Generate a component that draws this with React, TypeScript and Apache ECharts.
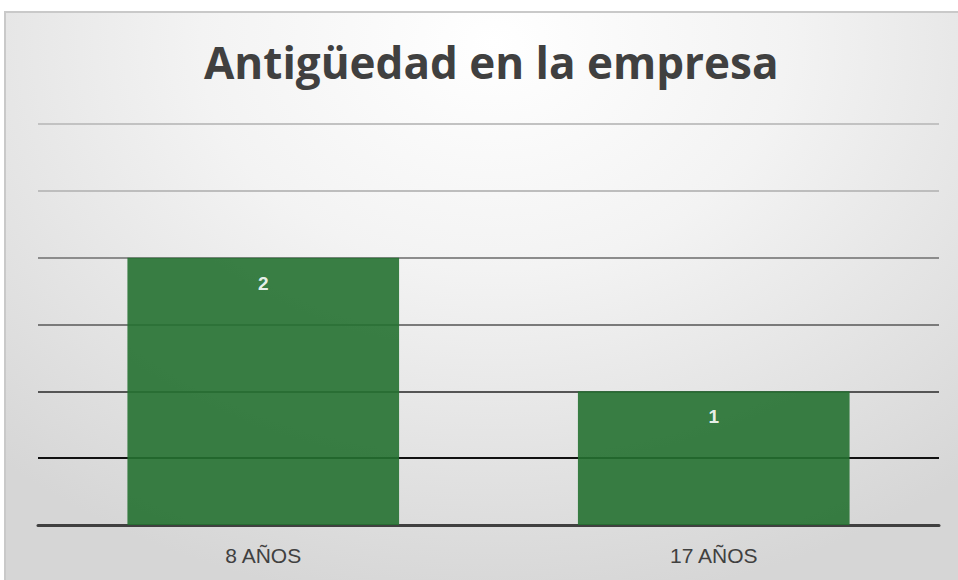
import React, { useEffect, useRef } from "react";
import * as echarts from "echarts";

const title = "Antigüedad en la empresa";
const categories = ["8 AÑOS", "17 AÑOS"];
const values = [2, 1];
const yMax = 3;
const yInterval = 0.5;

export default function App() {
  const ref = useRef<HTMLDivElement>(null);
  useEffect(() => {
    if (!ref.current) return;
    const chart = echarts.init(ref.current, null, { renderer: "svg" });
    chart.setOption({
      animation: false,
      backgroundColor: "transparent",
      title: {
        text: title,
        left: 199,
        top: 35,
        textStyle: {
          fontFamily: "Open Sans",
          fontWeight: "bold",
          fontSize: 44,
          color: "#404040",
        },
      },
      grid: { left: 38, right: 19, top: 124, bottom: 55, containLabel: false },
      xAxis: {
        type: "category",
        data: categories,
        axisLine: { show: true, lineStyle: { color: "#404040", width: 3 } },
        axisTick: { show: false },
        axisLabel: {
          fontFamily: "Liberation Sans",
          fontSize: 21,
          color: "#404040",
          margin: 20,
        },
      },
      yAxis: {
        type: "value",
        min: 0,
        max: yMax,
        interval: yInterval,
        axisLabel: { show: false },
        axisLine: { show: false },
        axisTick: { show: false },
        splitLine: {
          show: true,
          lineStyle: {
            width: 2,
            color: ["#404040", "#111111", "#555555", "#7a7a7a", "#8c8c8c", "#bdbdbd", "#c2c2c2"],
          },
        },
      },
      series: [
        {
          type: "bar",
          data: values,
          barWidth: "60.3%",
          itemStyle: { color: "rgb(37,113,49)", opacity: 0.9 },
          label: {
            show: true,
            position: "insideTop",
            distance: 16,
            color: "#ffffff",
            fontWeight: "bold",
            fontSize: 19,
            fontFamily: "Liberation Sans",
          },
        },
      ],
    });
    return () => chart.dispose();
  }, []);
  return (
    <div style={{ position: "fixed", left: 0, top: 0, width: 958, height: 580, overflow: "hidden", background: "#ffffff" }}>
      <div
        style={{
          position: "absolute",
          left: 4,
          top: 11,
          width: 980,
          height: 600,
          boxSizing: "border-box",
          border: "2px solid #c9c9c9",
          background: "radial-gradient(ellipse 75% 95% at 50% 5%, #ffffff 0%, #f3f3f3 40%, #d6d6d6 100%)",
        }}
      />
      <div ref={ref} style={{ position: "absolute", left: 0, top: 0, width: 958, height: 580 }} />
    </div>
  );
}
